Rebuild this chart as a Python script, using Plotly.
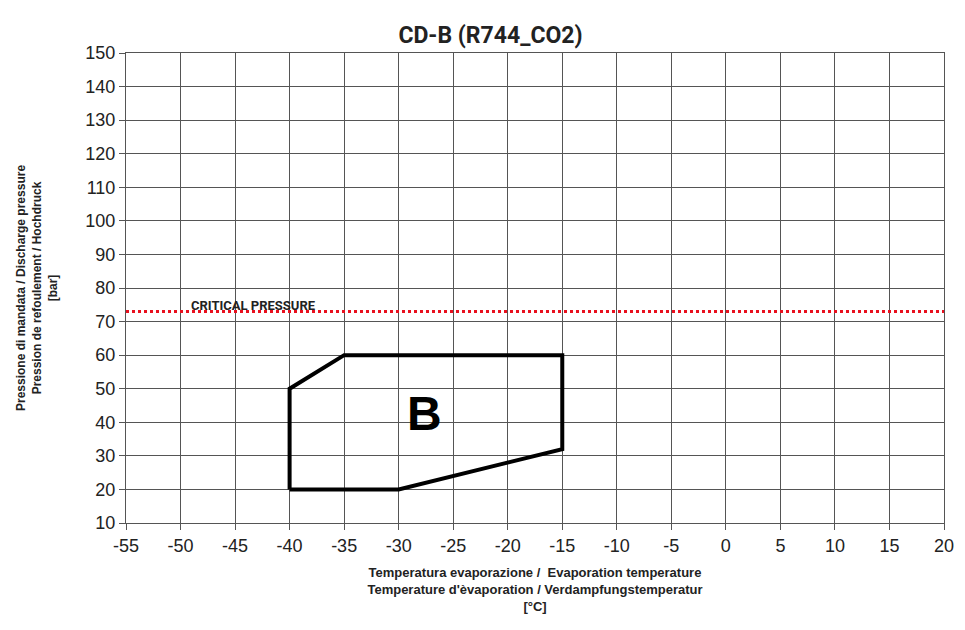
import plotly.graph_objects as go

title = "CD-B (R744_CO2)"
env_temp = [-40, -30, -15, -15, -35, -40, -40]
env_press = [20, 20, 32, 60, 60, 50, 20]
critical_pressure = 73
x_range = [-55, 20]
y_range = [10, 150]
x_ticks = list(range(-55, 21, 5))
y_ticks = list(range(10, 151, 10))
x_ticktext = [str(v) for v in x_ticks]
y_ticktext = [str(v) for v in y_ticks]

cond = "Roboto, sans-serif"
arial = "Liberation Sans, Arial, sans-serif"

fig = go.Figure()
fig.add_trace(go.Scatter(x=x_range, y=[critical_pressure, critical_pressure], mode="lines",
                         line=dict(color="#e8101e", width=3, dash="dot"), hoverinfo="skip"))
fig.add_trace(go.Scatter(x=env_temp, y=env_press, mode="lines",
                         line=dict(color="black", width=4), hoverinfo="skip"))
fig.add_annotation(x=-27.6, y=42.5, text="<b>B</b>", showarrow=False,
                   font=dict(family=arial, size=48, color="black"))
fig.add_annotation(x=-49.2, y=critical_pressure, text="<b>CRITICAL PRESSURE</b>", showarrow=False,
                   xanchor="left", yanchor="bottom", yshift=-3,
                   font=dict(family=cond, size=13, color="#222"))

fig.update_layout(
    width=965, height=630, showlegend=False,
    plot_bgcolor="white", paper_bgcolor="white",
    margin=dict(l=118, r=29, t=45, b=115, autoexpand=False),
    title=dict(text="<b>" + title + "</b>", x=0.5, xanchor="center", y=0.958, yanchor="middle",
               font=dict(family=cond, size=23, color="#222")),
    xaxis=dict(range=x_range, tickvals=x_ticks, ticktext=x_ticktext, showgrid=True, gridcolor="#555", gridwidth=1,
               showline=True, linecolor="#555", mirror=True, ticks="outside", ticklen=6, tickcolor="#555",
               zeroline=False, automargin=False, tickfont=dict(family=arial, size=18, color="#222"),
               title=dict(text="<b>Temperatura evaporazione /  Evaporation temperature<br>Temperature d'èvaporation / Verdampfungstemperatur<br>[°C]</b>",
                          font=dict(family=arial, size=13, color="#222"), standoff=13)),
    yaxis=dict(range=y_range, tickvals=y_ticks, ticktext=y_ticktext, showgrid=True, gridcolor="#555", gridwidth=1,
               showline=True, linecolor="#555", mirror=True, ticks="outside", ticklen=6, tickcolor="#555",
               zeroline=False, automargin=False, tickfont=dict(family=arial, size=18, color="#222"),
               title=dict(text="<b>Pressione di mandata / Discharge pressure<br>Pression de refoulement / Hochdruck<br>[bar]</b>",
                          font=dict(family=arial, size=12, color="#222"), standoff=25)),
)
fig.write_html("out.html")
